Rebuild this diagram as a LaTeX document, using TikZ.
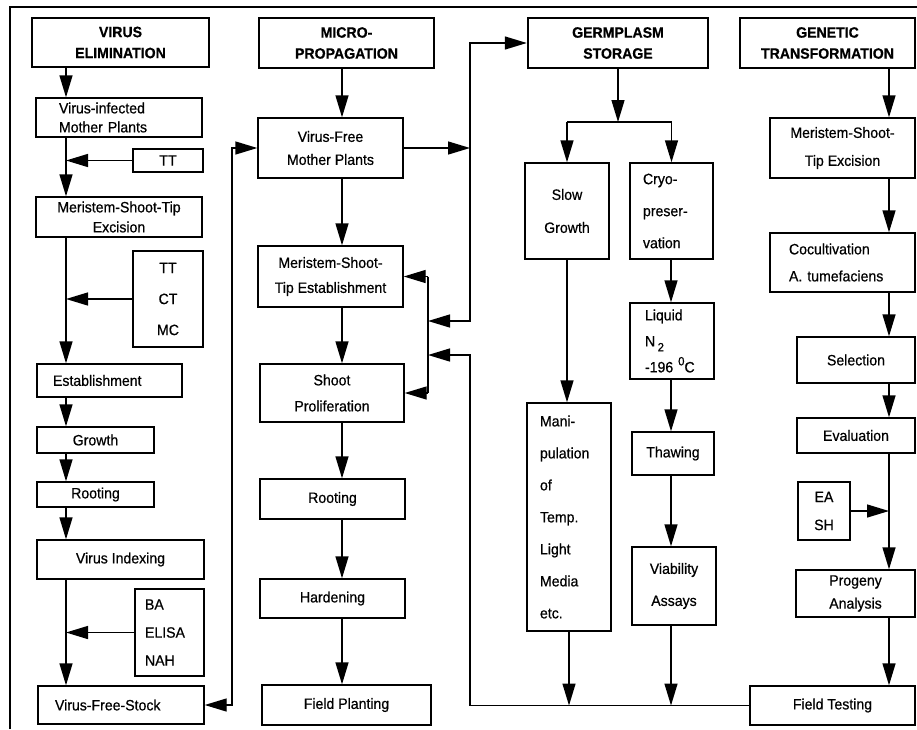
\documentclass[tikz,border=0pt]{standalone}
\usepackage{fontspec}
\setmainfont{Liberation Sans}[FakeStretch=0.94,FakeBold=0.6]
\usetikzlibrary{arrows.meta}
\newcommand\Bx[7]{\node[#6,minimum width={(#4)-(#2)},minimum height={(#5)-(#3)}] (#1) at ({((#2)+(#4))/2},{((#3)+(#5))/2}) {#7};}
\newcommand\Lx[8]{\node[#7,align=left,inner xsep=#6,text width={(#4)-(#2)-2*(#6)},minimum height={(#5)-(#3)}] (#1) at ({((#2)+(#4))/2},{((#3)+(#5))/2}) {#8};}
\begin{document}
\begin{tikzpicture}[x=1pt,y=-1pt,
  box/.style={draw,line width=1.4pt,rectangle,inner sep=0pt,align=center,font=\fontsize{15}{20}\selectfont},
  ls/.style={font=\fontsize{15}{#1}\selectfont},
  hdr/.style={draw,line width=2.4pt,rectangle,inner sep=0pt,align=center,font=\bfseries\fontsize{15}{21}\selectfont},
  ln/.style={line width=1.4pt},
  arr/.style={line width=1.4pt,-{Triangle[length=22pt,width=13pt]}},
  arrb/.style={line width=1.4pt,{Triangle[length=22pt,width=13pt]}-{Triangle[length=22pt,width=13pt]}}]
\useasboundingbox (0,0) rectangle (917,729);
\draw[ln] (10,729) -- (10,7) -- (917,7);
% column 1
\Bx{h1}{32}{18}{209}{67}{hdr}{VIRUS\\ELIMINATION}
\Lx{vim}{36}{98}{202}{137}{23}{box,ls=19}{Virus-infected\\Mother Plants}
\Bx{tt}{133}{149}{203}{172}{box}{TT}
\Bx{mste}{36}{197}{202}{237}{box,ls=20}{Meristem-Shoot-Tip\\Excision}
\Bx{tcm}{133}{251}{203}{347}{box,ls=31}{TT\\CT\\MC}
\Lx{est}{37}{364}{182}{397}{16}{box}{Establishment}
\Bx{gro}{37}{427}{154}{453}{box}{Growth}
\Bx{roo1}{37}{482}{154}{507}{box}{Rooting}
\Bx{vix}{37}{540}{204}{579}{box}{Virus Indexing}
\Lx{bae}{135}{589}{204}{676}{10}{box,ls=28}{BA\\ELISA\\NAH}
\Lx{vfs}{38}{686}{204}{724}{17}{box}{Virus-Free-Stock}
% column 2
\Bx{h2}{259}{18}{434}{68}{hdr}{MICRO-\\PROPAGATION}
\Bx{vfm}{258}{118}{403}{178}{box,ls=23}{Virus-Free\\Mother Plants}
\Bx{mst2}{258}{246}{403}{307}{box,ls=25}{Meristem-Shoot-\\Tip Establishment}
\Bx{spr}{260}{364}{404}{422}{box,ls=26}{Shoot\\Proliferation}
\Bx{roo2}{260}{479}{405}{519}{box}{Rooting}
\Bx{har}{260}{579}{405}{618}{box}{Hardening}
\Bx{fpl}{262}{685}{431}{725}{box}{Field Planting}
% column 3
\Bx{h3}{528}{18}{708}{68}{hdr}{GERMPLASM\\STORAGE}
\Bx{slg}{525}{163}{609}{259}{box,ls=33}{Slow\\Growth}
\Lx{cry}{630}{163}{713}{259}{13}{box,ls=32}{Cryo-\\preser-\\vation}
\Lx{liq}{630}{303}{714}{379}{15}{box,ls=26}{Liquid\\N\,\raisebox{-5pt}{\fontsize{12}{12}\selectfont 2}\\-196 \raisebox{7pt}{\fontsize{12}{12}\selectfont 0}C}
\Bx{tha}{632}{432}{714}{475}{box}{Thawing}
\Bx{via}{632}{547}{716}{625}{box,ls=32}{Viability\\Assays}
\Lx{man}{527}{403}{611}{631}{13}{box,ls=32}{Mani-\\pulation\\of\\Temp.\\Light\\Media\\etc.}
% column 4
\Bx{h4}{740}{18}{915}{68}{hdr}{GENETIC\\TRANSFORMATION}
\Bx{mst4}{770}{118}{915}{178}{box,ls=28}{Meristem-Shoot-\\Tip Excision}
\Lx{coc}{770}{233}{915}{292}{19}{box,ls=27}{Cocultivation\\A. tumefaciens}
\Bx{sel}{797}{337}{915}{383}{box}{Selection}
\Bx{eva}{797}{418}{915}{453}{box}{Evaluation}
\Bx{eas}{798}{482}{850}{540}{box,ls=28}{EA\\SH}
\Bx{pro}{796}{570}{915}{617}{box,ls=23}{Progeny\\Analysis}
\Bx{fte}{750}{686}{915}{725}{box}{Field Testing}
% helper coordinates
\coordinate (a1) at (66,0);
\coordinate (a2) at (232,0);
\coordinate (a3) at (342,0);
\coordinate (a4) at (470,0);
\coordinate (a5) at (428,0);
\coordinate (a7) at (618,122);
\coordinate (a8) at (671,0);
\coordinate (a9) at (889,0);
\coordinate (j1) at (470,321);
\coordinate (j2) at (428,321);
\coordinate (j3) at (470,355);
\coordinate (j4) at (428,355);
% column 1 connectors
\draw[arr] (h1.south -| a1) -- (vim.north -| a1);
\draw[arr] (vim.south -| a1) -- (mste.north -| a1);
\draw[arr] (tt.west) -- (tt.west -| a1);
\draw[arr] (mste.south -| a1) -- (est.north -| a1);
\draw[arr] (tcm.west) -- (tcm.west -| a1);
\draw[arr] (est.south -| a1) -- (gro.north -| a1);
\draw[arr] (gro.south -| a1) -- (roo1.north -| a1);
\draw[arr] (roo1.south -| a1) -- (vix.north -| a1);
\draw[arr] (vix.south -| a1) -- (vfs.north -| a1);
\draw[arr] (bae.west) -- (bae.west -| a1);
\draw[arrb] (vfs.east) -- (vfs.east -| a2) -- (vfm.west -| a2) -- (vfm.west);
% column 2 connectors
\draw[arr] (h2.south -| a3) -- (vfm.north -| a3);
\draw[arr] (vfm.south -| a3) -- (mst2.north -| a3);
\draw[arr] (mst2.south -| a3) -- (spr.north -| a3);
\draw[arr] (spr.south -| a3) -- (roo2.north -| a3);
\draw[arr] (roo2.south -| a3) -- (har.north -| a3);
\draw[arr] (har.south -| a3) -- (fpl.north -| a3);
\draw[arr] (vfm.east) -- (vfm.east -| a4);
\draw[arr] (vfm.east -| a4) -- (h3.west -| a4) -- (h3.west);
\draw[arr] (vfm.east -| a4) -- (j1) -- (j2);
\draw[ln] (mst2.east -| a5) -- (spr.east -| a5);
\draw[arr] (mst2.east -| a5) -- (mst2.east);
\draw[arr] (spr.east -| a5) -- (spr.east);
\draw[arr] (fte.west) -- (fte.west -| a4) -- (j3) -- (j4);
% column 3 connectors
\draw[arr] (h3.south) -- (a7);
\draw[ln] (slg.north |- a7) -- (cry.north |- a7);
\draw[arr] (slg.north |- a7) -- (slg.north);
\draw[arr] (cry.north |- a7) -- (cry.north);
\draw[arr] (slg.south) -- (slg.south |- man.north);
\draw[arr] (cry.south -| a8) -- (liq.north -| a8);
\draw[arr] (liq.south -| a8) -- (tha.north -| a8);
\draw[arr] (tha.south -| a8) -- (via.north -| a8);
\draw[arr] (man.south) -- (man.south |- fte.west);
\draw[arr] (via.south -| a8) -- (fte.west -| a8);
% column 4 connectors
\draw[arr] (h4.south -| a9) -- (mst4.north -| a9);
\draw[arr] (mst4.south -| a9) -- (coc.north -| a9);
\draw[arr] (coc.south -| a9) -- (sel.north -| a9);
\draw[arr] (sel.south -| a9) -- (eva.north -| a9);
\draw[arr] (eva.south -| a9) -- (pro.north -| a9);
\draw[arr] (eas.east) -- (eas.east -| a9);
\draw[arr] (pro.south -| a9) -- (fte.north -| a9);
\end{tikzpicture}
\end{document}
